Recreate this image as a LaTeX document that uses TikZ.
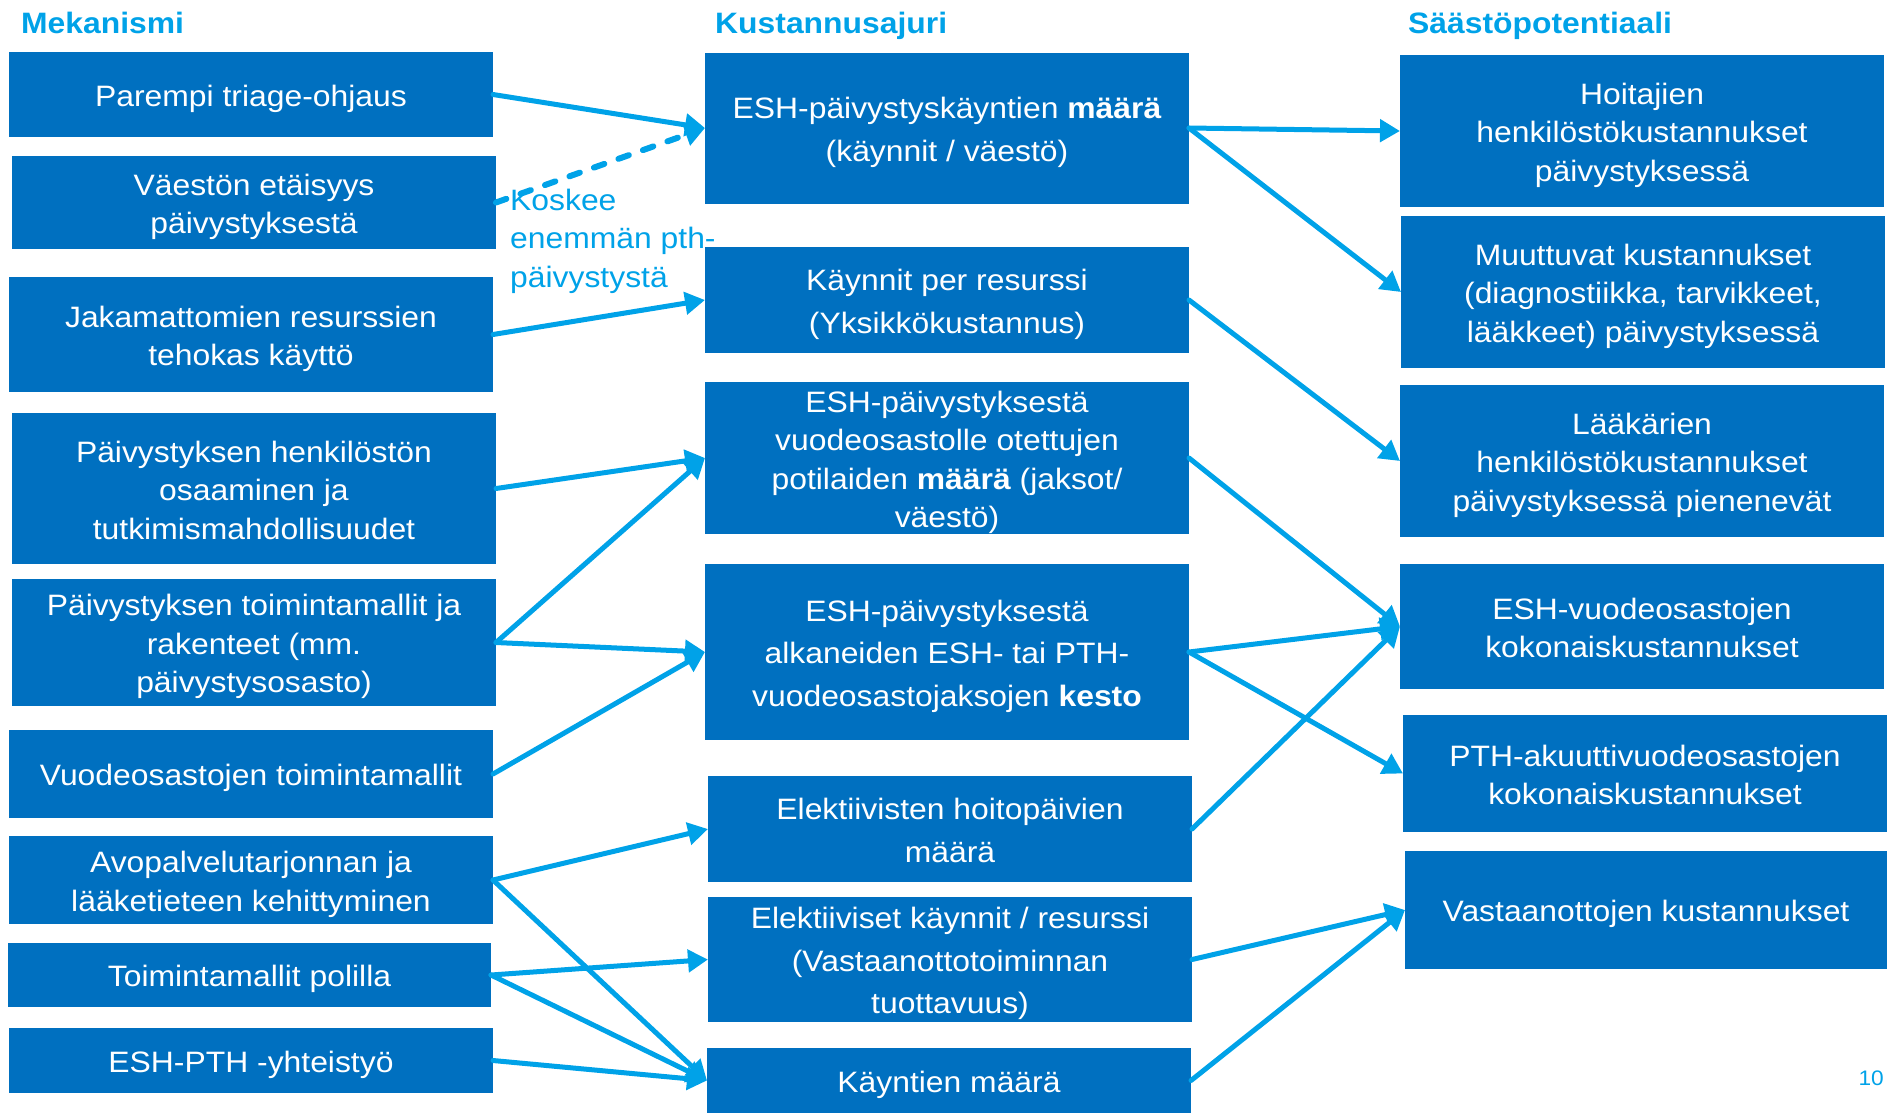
\documentclass[tikz,border=0pt]{standalone}
\usepackage{fontspec}
\setmainfont{Liberation Sans}[FakeStretch=1.08]
\usetikzlibrary{arrows.meta}
\definecolor{boxblue}{RGB}{0,112,192}
\definecolor{arrowblue}{RGB}{0,162,232}
\newcommand\topstr{\rule{0pt}{30pt}}
\newcommand\botstr{\rule[-5.6pt]{0pt}{0pt}}
\newcommand\bxt[1]{\topstr#1\botstr}
\tikzset{
  bx/.style={fill=boxblue, text=white, align=center, inner sep=0pt, outer sep=0pt,
    font=\fontsize{29.5}{38.5}\selectfont},
  mbx/.style={bx, font=\fontsize{29.5}{42.5}\selectfont},
  ttl/.style={text=arrowblue, font=\fontsize{29.5}{34}\selectfont\bfseries, anchor=base west, inner sep=0pt},
  arr/.style={draw=arrowblue, line width=5pt, line cap=round, -{Triangle[length=20pt,width=22pt]}},
  darr/.style={draw=arrowblue, line width=6pt, line cap=round, dash pattern=on 11pt off 15pt, -{Triangle[length=20pt,width=22pt]}}
}
\begin{document}
\begin{tikzpicture}[x=1pt,y=-1pt]
\useasboundingbox (0,0) rectangle (1887,1114);
% titles
\node[ttl] (t1) at (21,33) {Mekanismi};
\node[ttl] (t2) at (715,33) {Kustannusajuri};
\node[ttl] (t3) at (1408,33) {Säästöpotentiaali};
% left column
\node[bx, minimum width=484pt, minimum height=85pt] (L1) at (251,94.5) {\bxt{Parempi triage-ohjaus}};
\node[bx, minimum width=484pt, minimum height=93pt] (L2) at (254,202.5) {\bxt{Väestön etäisyys\\päivystyksestä}};
\node[bx, minimum width=484pt, minimum height=115pt] (L3) at (251,334.5) {\bxt{Jakamattomien resurssien\\tehokas käyttö}};
\node[bx, minimum width=484pt, minimum height=151pt] (L4) at (254,488.5) {\bxt{Päivystyksen henkilöstön\\osaaminen ja\\tutkimismahdollisuudet}};
\node[bx, minimum width=484pt, minimum height=127pt] (L5) at (254,642.5) {\bxt{Päivystyksen toimintamallit ja\\rakenteet (mm.\\päivystysosasto)}};
\node[bx, minimum width=484pt, minimum height=88pt] (L6) at (251,774) {\bxt{Vuodeosastojen toimintamallit}};
\node[bx, minimum width=484pt, minimum height=88pt] (L7) at (251,880) {\bxt{Avopalvelutarjonnan ja\\lääketieteen kehittyminen}};
\node[bx, minimum width=483pt, minimum height=64pt] (L8) at (249.5,975) {\bxt{Toimintamallit polilla}};
\node[bx, minimum width=484pt, minimum height=65pt] (L9) at (251,1060.5) {\bxt{ESH-PTH -yhteistyö}};
% middle column
\node[mbx, minimum width=484pt, minimum height=151pt] (M1) at (947,128) {\bxt{ESH-päivystyskäyntien \textbf{määrä}\\(käynnit / väestö)}};
\node[mbx, minimum width=484pt, minimum height=105.5pt] (M2) at (947,300) {\bxt{Käynnit per resurssi\\(Yksikkökustannus)}};
\node[bx, minimum width=484pt, minimum height=152pt] (M3) at (947,458) {\bxt{ESH-päivystyksestä\\vuodeosastolle otettujen\\potilaiden \textbf{määrä} (jaksot/\\väestö)}};
\node[mbx, minimum width=484pt, minimum height=176.6pt] (M4) at (947,652) {\bxt{ESH-päivystyksestä\\alkaneiden ESH- tai PTH-\\vuodeosastojaksojen \textbf{kesto}}};
\node[mbx, minimum width=484pt, minimum height=105.5pt] (M5) at (950,829) {\bxt{Elektiivisten hoitopäivien\\määrä}};
\node[mbx, minimum width=484pt, minimum height=125pt] (M6) at (950,959.5) {\bxt{Elektiiviset käynnit / resurssi\\(Vastaanottotoiminnan\\tuottavuus)}};
\node[mbx, minimum width=484pt, minimum height=65pt] (M7) at (949,1080.5) {\bxt{Käyntien määrä}};
% right column
\node[bx, minimum width=484pt, minimum height=152pt] (R1) at (1642,131) {\bxt{Hoitajien\\henkilöstökustannukset\\päivystyksessä}};
\node[bx, minimum width=484pt, minimum height=152pt] (R2) at (1643,292) {\bxt{Muuttuvat kustannukset\\(diagnostiikka, tarvikkeet,\\lääkkeet) päivystyksessä}};
\node[bx, minimum width=484pt, minimum height=152pt] (R3) at (1642,461) {\bxt{Lääkärien\\henkilöstökustannukset\\päivystyksessä pienenevät}};
\node[bx, minimum width=484pt, minimum height=125pt] (R4) at (1642,626.5) {\bxt{ESH-vuodeosastojen\\kokonaiskustannukset}};
\node[bx, minimum width=484pt, minimum height=117pt] (R5) at (1645,773.5) {\bxt{PTH-akuuttivuodeosastojen\\kokonaiskustannukset}};
\node[bx, minimum width=482pt, minimum height=118pt] (R6) at (1646,910) {\bxt{Vastaanottojen kustannukset}};
% note label
\node[text=arrowblue, align=left, anchor=base west, inner sep=0pt, font=\fontsize{29.5}{38.5}\selectfont] (note) at (510,287) {Koskee\\enemmän pth-\\päivystystä};
% page number
\node[text=arrowblue, anchor=base east, inner sep=0pt, font=\fontsize{21}{24}\selectfont] (pg) at (1884,1085) {10};
% connectors left -> middle
\draw[arr] (L1.east) -- (M1.west);
\draw[darr] (L2.east) -- (M1.west);
\draw[arr] (L3.east) -- (M2.west);
\draw[arr] (L4.east) -- (M3.west);
\draw[arr] (L5.east) -- (M3.west);
\draw[arr] (L5.east) -- (M4.west);
\draw[arr] (L6.east) -- (M4.west);
\draw[arr] (L7.east) -- (M5.west);
\draw[arr] (L7.east) -- (M7.west);
\draw[arr] (L8.east) -- (M6.west);
\draw[arr] (L8.east) -- (M7.west);
\draw[arr] (L9.east) -- (M7.west);
% connectors middle -> right
\draw[arr] (M1.east) -- (R1.west);
\draw[arr] (M1.east) -- (R2.west);
\draw[arr] (M2.east) -- (R3.west);
\draw[arr] (M3.east) -- (R4.west);
\draw[arr] (M4.east) -- (R4.west);
\draw[arr] (M4.east) -- (R5.west);
\draw[arr] (M5.east) -- (R4.west);
\draw[arr] (M6.east) -- (R6.west);
\draw[arr] (M7.east) -- (R6.west);
\end{tikzpicture}
\end{document}
